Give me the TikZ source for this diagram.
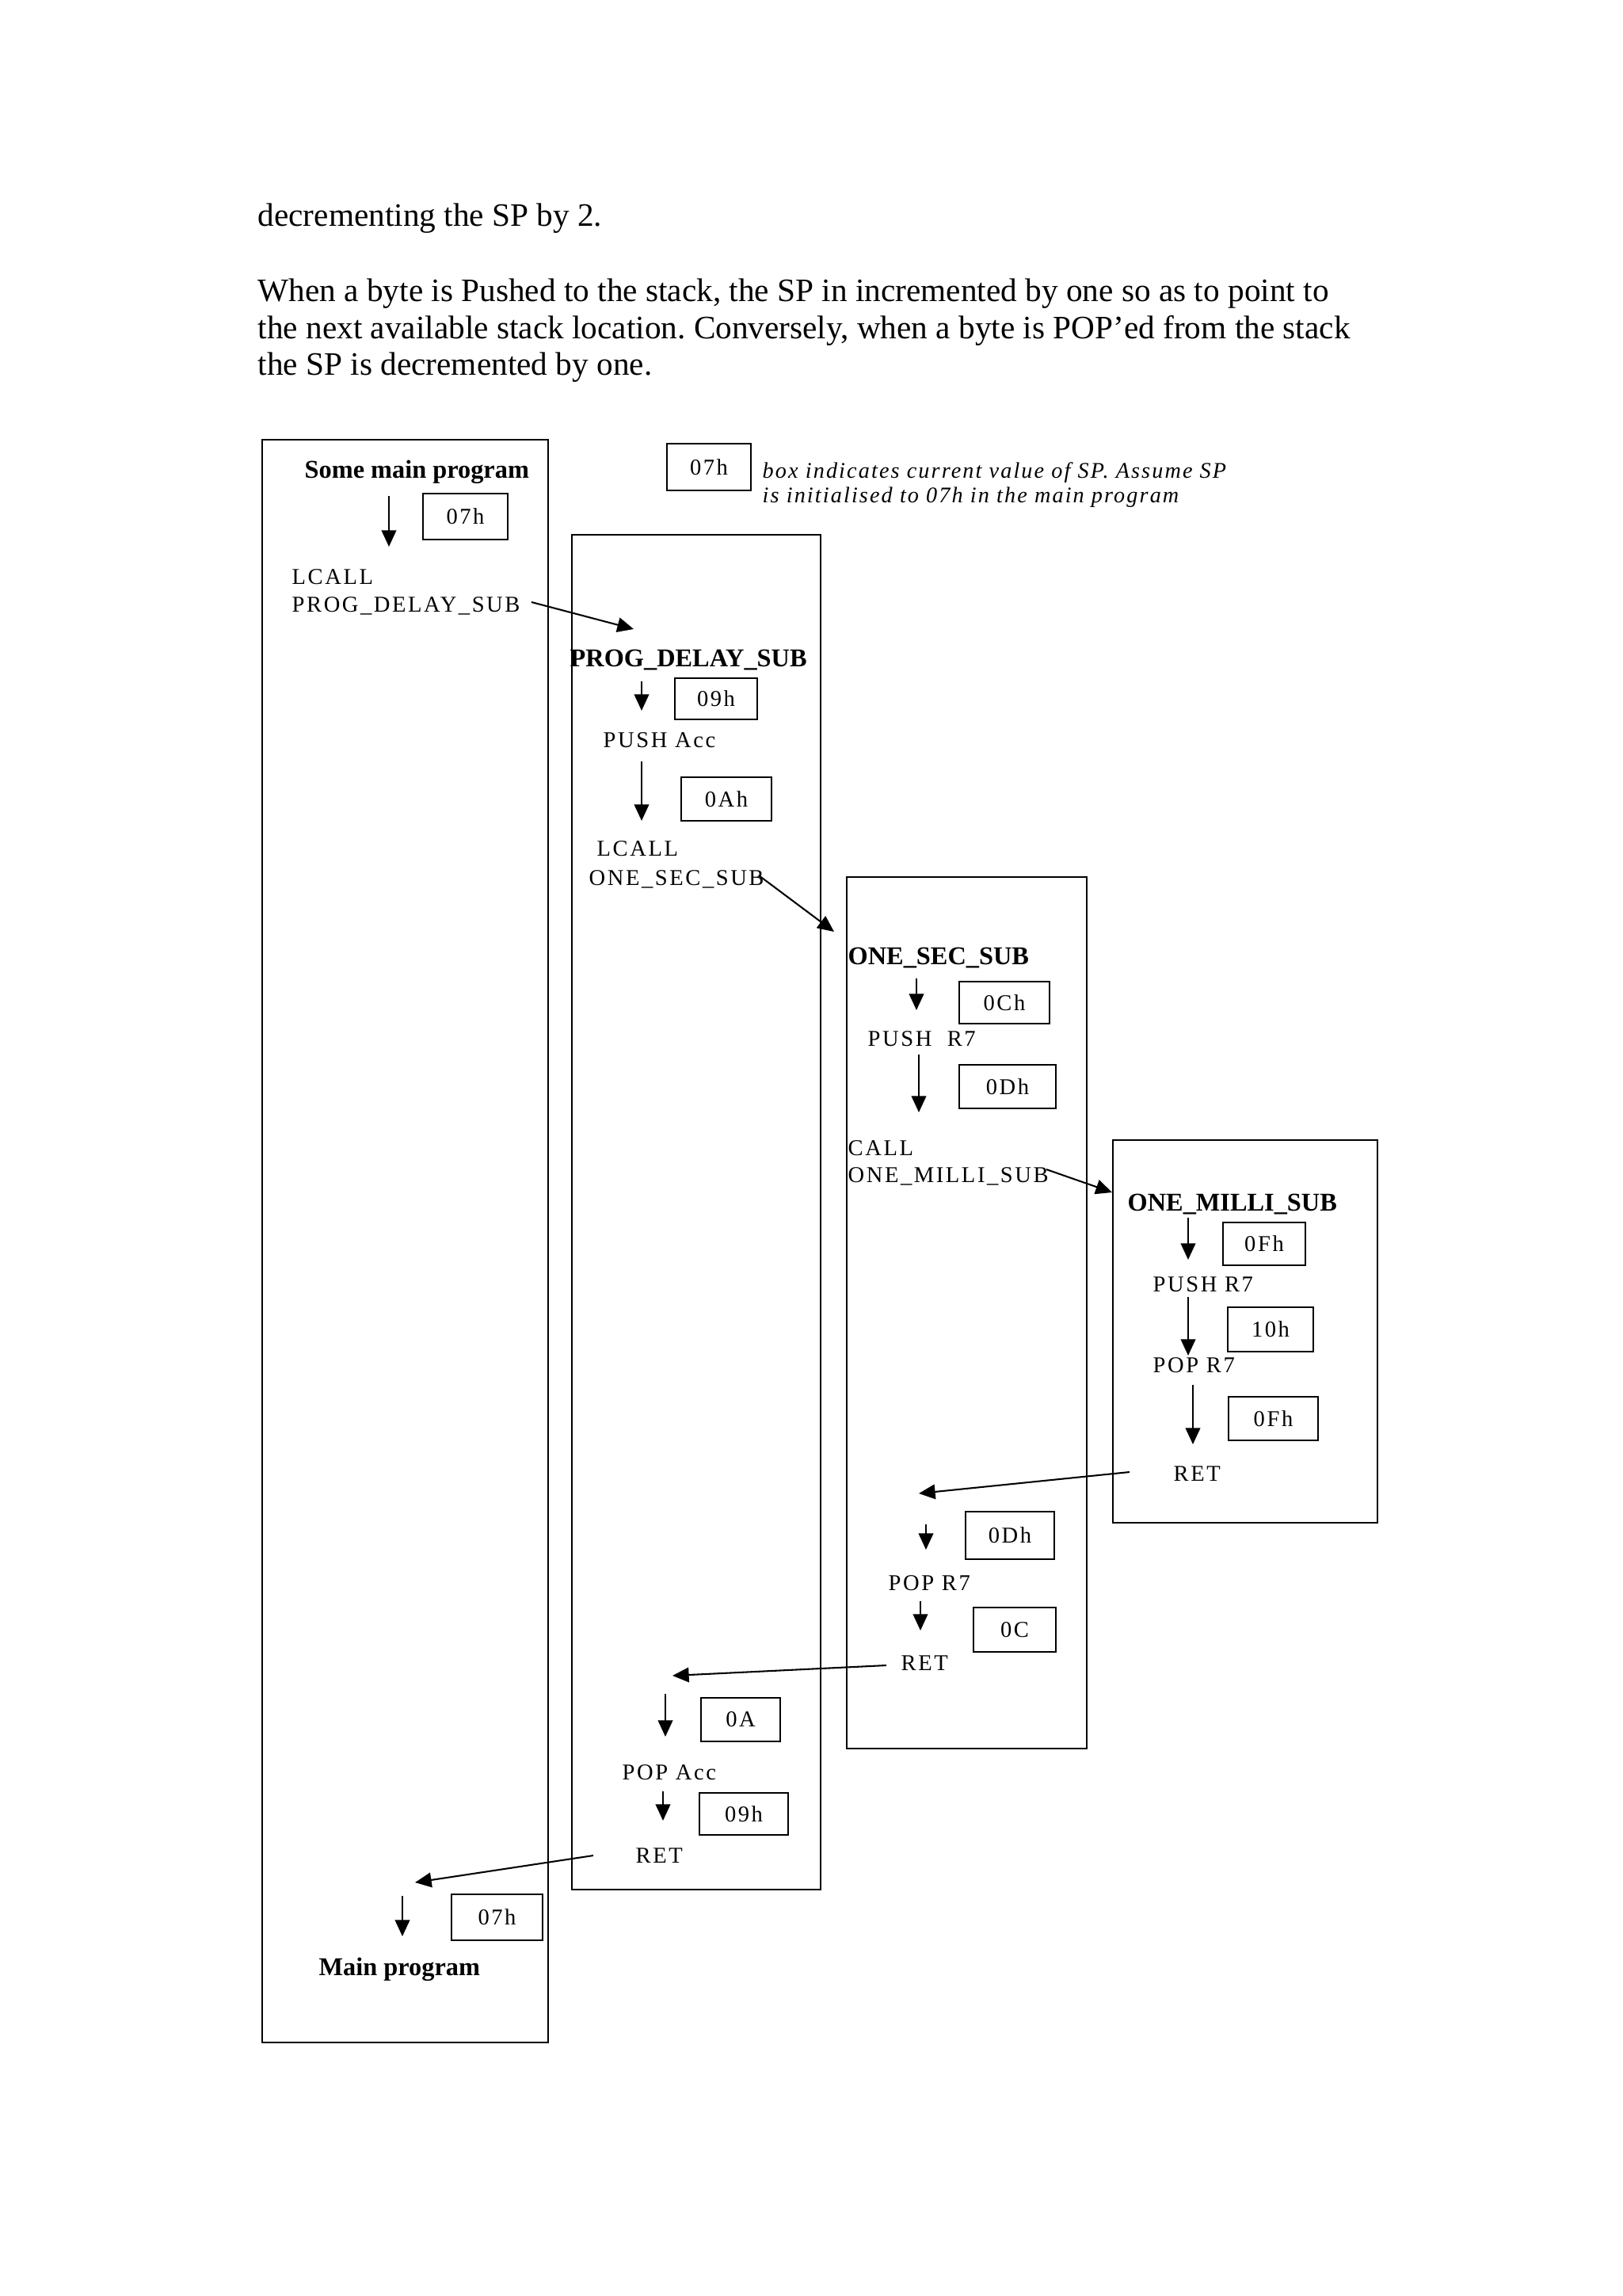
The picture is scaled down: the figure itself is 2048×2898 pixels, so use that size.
\documentclass[tikz,border=0pt]{standalone}
\usepackage{fontspec}
\setmainfont{Liberation Serif}
\newfontfamily\dgfont[LetterSpace=9]{Liberation Serif}
\newfontfamily\dgitfont[LetterSpace=7.5]{Liberation Serif Italic}
\usetikzlibrary{arrows.meta}
\frenchspacing
\begin{document}
\begin{tikzpicture}[x=0.29066pt,y=-0.29066pt,
  frame/.style={line width=0.8pt},
  spbox/.style 2 args={draw, line width=0.8pt, inner sep=0pt,
    minimum width=#1*0.29066pt, minimum height=#2*0.29066pt,
    font=\dgfont\fontsize{8.3}{9.6}\selectfont},
  lbl/.style={font=\dgfont\fontsize{8.3}{9.6}\selectfont, inner sep=0pt, anchor=base west},
  note/.style={font=\dgitfont\fontsize{8.2}{9.6}\selectfont, inner sep=0pt, anchor=base west},
  head/.style={font=\bfseries\fontsize{9.4}{11}\selectfont, inner sep=0pt, anchor=base west},
  para/.style={font=\fontsize{12}{13.8}\selectfont, inner sep=0pt, anchor=base west},
  flow/.style={line width=0.6pt, -{Triangle[length=6pt,width=5.4pt]}}]
\useasboundingbox (0,0) rectangle (2048,2898);

% paragraph text
\node[para] (p1) at (325,285) {decrementing the SP by 2.};
\node[para] (p2) at (325,380) {When a byte is Pushed to the stack, the SP in incremented by one so as to point to};
\node[para] (p3) at (325,427) {the next available stack location. Conversely, when a byte is POP’ed from the stack};
\node[para] (p4) at (325,473) {the SP is decremented by one.};

% frames
\draw[frame] (331,555) rectangle (692,2578);
\draw[frame] (722,675) rectangle (1036,2385);
\draw[frame] (1069,1107) rectangle (1372,2207);
\draw[frame] (1405,1439) rectangle (1739,1922);

% legend
\node[spbox={106}{59}] (leg) at (895,589.5) {07h};
\node[note] (leg1) at (962,603) {box indicates current value of SP. Assume SP};
\node[note] (leg2) at (962,634) {is initialised to 07h in the main program};

% main program
\node[head] (mainh) at (384,603) {Some main program};
\coordinate (a1s) at (491,626); \coordinate (a1e) at (491,690);
\draw[flow] (a1s) -- (a1e);
\node[spbox={107}{58}] (b1) at (587.5,652) {07h};
\node[lbl] (lcall1) at (368,737) {LCALL};
\node[lbl] (pds) at (368,772) {PROG\_DELAY\_SUB};
\coordinate (c1s) at (671,760); \coordinate (c1e) at (800,794);
\draw[flow] (c1s) -- (c1e);

% PROG_DELAY_SUB
\node[head] (pdh) at (719,841) {PROG\_DELAY\_SUB};
\coordinate (a2s) at (810,860); \coordinate (a2e) at (810,897);
\draw[flow] (a2s) -- (a2e);
\node[spbox={104}{52}] (b2) at (904,882) {09h};
\node[lbl] (pushacc) at (761,943) {PUSH Acc};
\coordinate (a3s) at (810,961); \coordinate (a3e) at (810,1036);
\draw[flow] (a3s) -- (a3e);
\node[spbox={114}{55}] (b3) at (917,1008.5) {0Ah};
\node[lbl] (lcall2) at (753,1080) {LCALL};
\node[lbl] (oss) at (743,1117) {ONE\_SEC\_SUB};
\coordinate (c2s) at (958,1105); \coordinate (c2e) at (1053,1176);
\draw[flow] (c2s) -- (c2e);

% ONE_SEC_SUB
\node[head] (osh) at (1070,1217) {ONE\_SEC\_SUB};
\coordinate (a4s) at (1157,1235); \coordinate (a4e) at (1157,1275);
\draw[flow] (a4s) -- (a4e);
\node[spbox={114}{53}] (b4) at (1268,1265.5) {0Ch};
\node[lbl] (pushr7a) at (1095,1320) {PUSH\ \ R7};
\coordinate (a5s) at (1160,1331); \coordinate (a5e) at (1160,1404);
\draw[flow] (a5s) -- (a5e);
\node[spbox={122}{55}] (b5) at (1272,1371.5) {0Dh};
\node[lbl] (call) at (1070,1458) {CALL};
\node[lbl] (oms) at (1070,1492) {ONE\_MILLI\_SUB};
\coordinate (c3s) at (1321,1476); \coordinate (c3e) at (1404,1505);
\draw[flow] (c3s) -- (c3e);

% ONE_MILLI_SUB
\node[head] (omh) at (1423,1528) {ONE\_MILLI\_SUB};
\coordinate (a6s) at (1500,1537); \coordinate (a6e) at (1500,1590);
\draw[flow] (a6s) -- (a6e);
\node[spbox={104}{54}] (b6) at (1596,1570) {0Fh};
\node[lbl] (pushr7b) at (1455,1630) {PUSH R7};
\coordinate (a7s) at (1500,1637); \coordinate (a7e) at (1500,1711);
\draw[flow] (a7s) -- (a7e);
\node[spbox={108}{56}] (b7) at (1604,1678) {10h};
\node[lbl] (popr7a) at (1455,1732) {POP R7};
\coordinate (a8s) at (1506,1748); \coordinate (a8e) at (1506,1823);
\draw[flow] (a8s) -- (a8e);
\node[spbox={113}{55}] (b8) at (1607.5,1790.5) {0Fh};
\node[lbl] (ret1) at (1481,1869) {RET};
\coordinate (r1s) at (1426,1858); \coordinate (r1e) at (1160,1885);
\draw[flow] (r1s) -- (r1e);

% back in ONE_SEC_SUB
\coordinate (a9s) at (1169,1924); \coordinate (a9e) at (1169,1956);
\draw[flow] (a9s) -- (a9e);
\node[spbox={112}{60}] (b9) at (1275,1938) {0Dh};
\node[lbl] (popr7b) at (1121,2007) {POP R7};
\coordinate (a10s) at (1162,2021); \coordinate (a10e) at (1162,2058);
\draw[flow] (a10s) -- (a10e);
\node[spbox={104}{56}] (b10) at (1281,2057) {0C};
\node[lbl] (ret2) at (1137,2108) {RET};
\coordinate (r2s) at (1119,2102); \coordinate (r2e) at (849,2115);
\draw[flow] (r2s) -- (r2e);

% back in PROG_DELAY_SUB
\coordinate (a11s) at (840,2138); \coordinate (a11e) at (840,2192);
\draw[flow] (a11s) -- (a11e);
\node[spbox={100}{55}] (b11) at (935,2170.5) {0A};
\node[lbl] (popacc) at (785,2246) {POP Acc};
\coordinate (a12s) at (837,2261); \coordinate (a12e) at (837,2298);
\draw[flow] (a12s) -- (a12e);
\node[spbox={112}{53}] (b12) at (939,2289.5) {09h};
\node[lbl] (ret3) at (802,2351) {RET};
\coordinate (r3s) at (749,2342); \coordinate (r3e) at (524,2376);
\draw[flow] (r3s) -- (r3e);

% back in main
\coordinate (a13s) at (508,2393); \coordinate (a13e) at (508,2444);
\draw[flow] (a13s) -- (a13e);
\node[spbox={115}{58}] (b13) at (627.5,2420) {07h};
\node[head] (mainp) at (402,2493) {Main program};
\end{tikzpicture}
\end{document}
